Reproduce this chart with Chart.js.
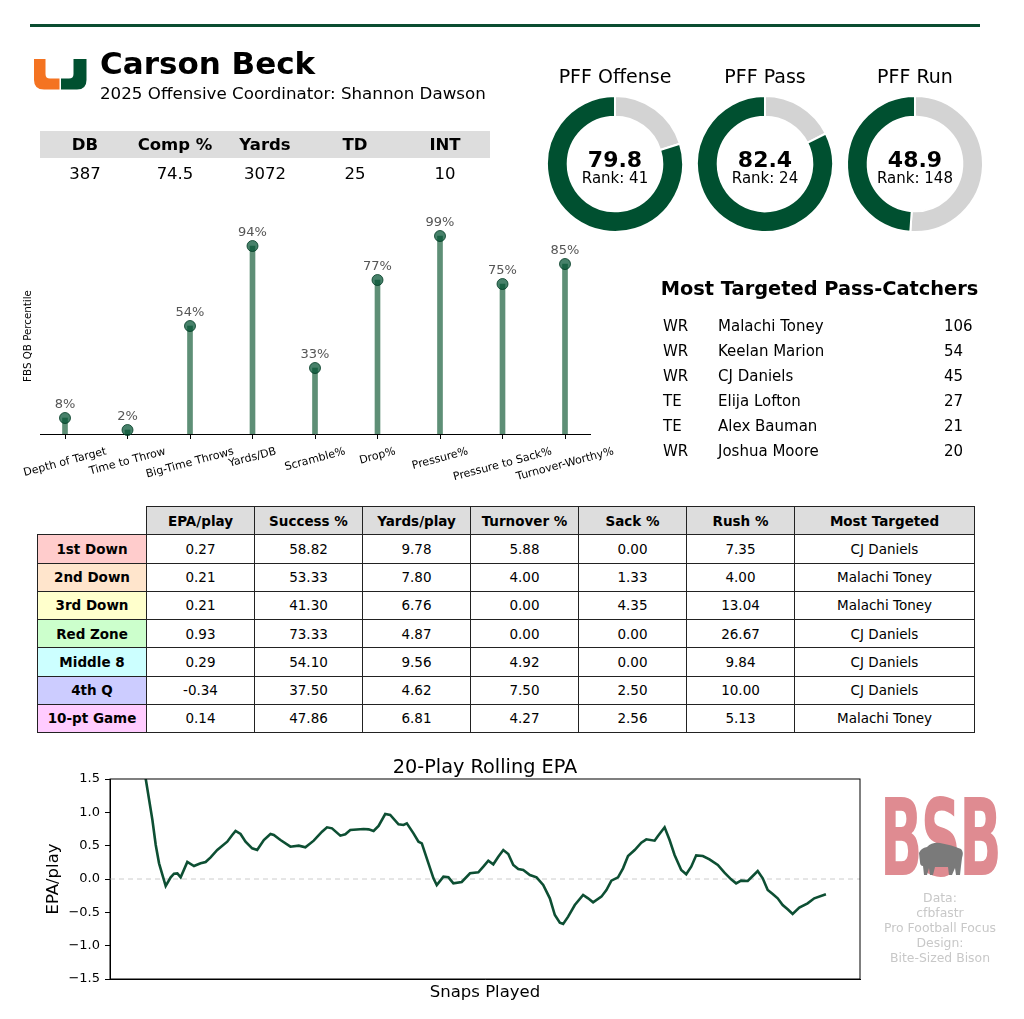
<!DOCTYPE html>
<html>
<head>
<meta charset="utf-8">
<script src="https://cdn.jsdelivr.net/npm/chart.js@4.4.1/dist/chart.umd.min.js"></script>
<style>
html,body{margin:0;padding:0;background:#fff;}
body{width:1024px;height:1019px;position:relative;overflow:hidden;font-family:"DejaVu Sans",sans-serif;color:#000;}
.t{position:absolute;white-space:nowrap;line-height:1;}
canvas{position:absolute;}
#topline{position:absolute;left:30px;top:24px;width:950px;height:3px;background:#0b4d31;}
#statband{position:absolute;left:40px;top:131px;width:450px;height:27px;background:#dddddd;}
#splits{position:absolute;left:37px;top:506px;border-collapse:collapse;table-layout:fixed;width:937px;font-size:13.5px;}
#splits td,#splits th{border:1px solid #222;padding:0;text-align:center;vertical-align:middle;}
#splits tr{height:28.25px;}
#splits th{background:#dddddd;font-weight:bold;}
#splits td.lab{font-weight:bold;}
#splits th.corner{background:#fff;border-top:none;border-left:none;}
#bsb{position:absolute;left:880px;top:784.5px;font-family:"DejaVu Sans Condensed","DejaVu Sans",sans-serif;font-weight:bold;font-size:107px;line-height:1;color:#df8b91;transform-origin:left top;letter-spacing:-3px;white-space:nowrap;}
</style>
</head>
<body>
<div id="topline"></div>
<svg width="100" height="100" style="position:absolute;left:0;top:0" viewBox="0 0 100 100">
  <path d="M34,59 H45.5 V74 Q45.5,78.5 50,78.5 H59.5 V89.5 H44 Q34,89.5 34,80 Z" fill="#f47321"/>
  <path d="M86.5,59 H73.5 V74 Q73.5,78.5 69,78.5 H61 V89.5 H77 Q86.5,89.5 86.5,80 Z" fill="#005030"/>
</svg>
<div id="statband"></div>
<canvas id="d0" width="140" height="140" style="left:545px;top:94px"></canvas>
<canvas id="d1" width="140" height="140" style="left:695px;top:94px"></canvas>
<canvas id="d2" width="140" height="140" style="left:845px;top:94px"></canvas>
<canvas id="lolli" width="620" height="290" style="left:0px;top:200px"></canvas>
<table id="splits"><colgroup id="cg"></colgroup><thead><tr id="hdr"></tr></thead><tbody id="tb"></tbody></table>
<canvas id="roll" width="830" height="270" style="left:40px;top:750px"></canvas>
<div id="bsb">BSB</div>
<svg width="1024" height="1019" style="position:absolute;left:0;top:0;pointer-events:none" viewBox="0 0 1024 1019">
  <path d="M920,862 L919,853 Q921,848 927,847 Q932,842 940,843 Q952,845 961,849 Q964,852 962,858 L961,866 L960,875 L956,875 L955,868 L952,875 L949,875 L948,867 L935,867 L933,875 L930,875 L929,868 L927,875 L924,875 L923,866 Q920,866 920,862 Z" fill="#7a7a7a"/>
</svg>
<script>
// ---------------- DATA ----------------
const playerName = "Carson Beck";
const subtitleText = "2025 Offensive Coordinator: Shannon Dawson";
const statLabels = ["DB", "Comp %", "Yards", "TD", "INT"];
const statValues = ["387", "74.5", "3072", "25", "10"];

const pffLabels = ["PFF Offense", "PFF Pass", "PFF Run"];
const pffGrades = [79.8, 82.4, 48.9];
const pffRanks = [41, 24, 148];

const pctCategories = ["Depth of Target", "Time to Throw", "Big-Time Throws", "Yards/DB", "Scramble%", "Drop%", "Pressure%", "Pressure to Sack%", "Turnover-Worthy%"];
const pctValues = [8, 2, 54, 94, 33, 77, 99, 75, 85];
const pctAxisTitle = "FBS QB Percentile";

const targetTitle = "Most Targeted Pass-Catchers";
const targetPos = ["WR", "WR", "WR", "TE", "TE", "WR"];
const targetNames = ["Malachi Toney", "Keelan Marion", "CJ Daniels", "Elija Lofton", "Alex Bauman", "Joshua Moore"];
const targetCounts = [106, 54, 45, 27, 21, 20];

const splitColumns = ["EPA/play", "Success %", "Yards/play", "Turnover %", "Sack %", "Rush %", "Most Targeted"];
const situationLabels = ["1st Down", "2nd Down", "3rd Down", "Red Zone", "Middle 8", "4th Q", "10-pt Game"];
const epaPlay = ["0.27", "0.21", "0.21", "0.93", "0.29", "-0.34", "0.14"];
const successPct = ["58.82", "53.33", "41.30", "73.33", "54.10", "37.50", "47.86"];
const yardsPlay = ["9.78", "7.80", "6.76", "4.87", "9.56", "4.62", "6.81"];
const turnoverPct = ["5.88", "4.00", "0.00", "0.00", "4.92", "7.50", "4.27"];
const sackPct = ["0.00", "1.33", "4.35", "0.00", "0.00", "2.50", "2.56"];
const rushPct = ["7.35", "4.00", "13.04", "26.67", "9.84", "10.00", "5.13"];
const mostTargeted = ["CJ Daniels", "Malachi Toney", "Malachi Toney", "CJ Daniels", "CJ Daniels", "CJ Daniels", "Malachi Toney"];

const rollingSnaps = [20,21,25,27,29,33,36,38,40,42,46,50,54,57,60,64,70,73,75,78,81,85,88,92,96,98,102,108,113,117,122,127,130,133,138,141,144,152,155,158,161,165,168,173,176,178,182,185,187,191,194,196,200,203,206,211,216,221,224,227,230,233,236,239,242,245,248,252,256,260,264,267,270,272,275,279,284,287,290,295,298,301,305,308,311,315,319,322,327,329,333,336,339,343,346,349,352,356,360,365,369,373,376,379,383,386,389,392,395,398,401,404,407,410,414,419,423,430];
const rollingEpa = [1.72,1.5,0.885,0.51,0.235,-0.105,0.025,0.08,0.085,0.025,0.255,0.195,0.235,0.255,0.325,0.435,0.56,0.66,0.72,0.675,0.56,0.46,0.435,0.585,0.675,0.66,0.585,0.485,0.5,0.475,0.575,0.71,0.775,0.76,0.65,0.67,0.735,0.75,0.745,0.72,0.795,0.975,0.96,0.82,0.81,0.835,0.685,0.56,0.535,0.235,0.01,-0.09,0.035,0.025,-0.065,-0.045,0.085,0.1,0.185,0.275,0.22,0.335,0.435,0.375,0.21,0.15,0.135,0.06,0.025,-0.09,-0.29,-0.54,-0.655,-0.675,-0.565,-0.39,-0.24,-0.29,-0.35,-0.265,-0.165,-0.025,0.025,0.16,0.345,0.435,0.545,0.595,0.575,0.645,0.775,0.585,0.36,0.135,0.07,0.185,0.355,0.345,0.295,0.21,0.095,-0.005,-0.065,-0.025,-0.03,0.045,0.12,0.01,-0.165,-0.225,-0.29,-0.39,-0.455,-0.525,-0.43,-0.365,-0.29,-0.23];
const rollingTitle = "20-Play Rolling EPA";
const rollingYTicks = [-1.5, -1.0, -0.5, 0.0, 0.5, 1.0, 1.5];

const creditLines = ["Data:", "cfbfastr", "Pro Football Focus", "Design:", "Bite-Sized Bison"];

// ---------------- STYLE ----------------
const GREEN = "#005030";
const situationColors = ["#ffcccc", "#ffe5cc", "#ffffcc", "#ccffcc", "#ccffff", "#ccccff", "#ffccff"];
Chart.defaults.font.family = "'DejaVu Sans', sans-serif";
Chart.defaults.color = "#000";

function place(txt, x, base, size, opts) {
  opts = opts || {};
  const d = document.createElement('div');
  d.className = 't';
  d.textContent = txt;
  d.style.fontSize = size + 'px';
  d.style.fontWeight = opts.bold ? 'bold' : 'normal';
  d.style.color = opts.color || '#000';
  d.style.top = (base - 0.846 * size) + 'px';
  d.style.left = x + 'px';
  const al = opts.align || 'left';
  if (al === 'center') d.style.transform = 'translateX(-50%)';
  else if (al === 'right') d.style.transform = 'translateX(-100%)';
  document.body.appendChild(d);
  return d;
}

// Header
place(playerName, 100, 74, 31, {bold: true});
place(subtitleText, 100, 99, 16.7);
statLabels.forEach((l, i) => place(l, 85 + 90 * i, 150.7, 16.5, {bold: true, align: 'center'}));
statValues.forEach((v, i) => place(v, 85 + 90 * i, 179.5, 16.5, {align: 'center'}));

// Doughnuts
const donutCenters = [615, 765, 915];
pffGrades.forEach((g, i) => {
  new Chart(document.getElementById('d' + i), {
    type: 'doughnut',
    data: { datasets: [{ data: [100 - g, g], backgroundColor: ['#d3d3d3', GREEN], borderColor: '#fff', borderWidth: 2 }] },
    options: {
      responsive: false, animation: false, radius: 68, cutout: 48,
      plugins: { legend: { display: false }, tooltip: { enabled: false } }
    }
  });
  place(pffLabels[i], donutCenters[i], 83.3, 19, {align: 'center'});
  place(g.toFixed(1), donutCenters[i], 167.3, 22, {bold: true, align: 'center'});
  place('Rank: ' + pffRanks[i], donutCenters[i], 183.3, 15, {align: 'center'});
});

// Pass catchers
place(targetTitle, 819.5, 295, 19.4, {bold: true, align: 'center'});
targetNames.forEach((n, i) => {
  const b = 332 + 25 * i;
  place(targetPos[i], 663, b, 15);
  place(n, 718, b, 15);
  place(String(targetCounts[i]), 944, b, 15);
});

// Lollipop chart
const lolliLabels = {
  id: 'lolliLabels',
  afterDatasetsDraw(chart) {
    const {ctx, chartArea} = chart;
    const xs = chart.scales.x, ys = chart.scales.y;
    ctx.save();
    ctx.font = "13px 'DejaVu Sans'";
    ctx.fillStyle = '#555';
    ctx.textAlign = 'center';
    ctx.textBaseline = 'bottom';
    pctValues.forEach((v, i) => ctx.fillText(v + '%', xs.getPixelForValue(i), ys.getPixelForValue(v) - 7));
    ctx.font = "11px 'DejaVu Sans'";
    ctx.fillStyle = '#000';
    const ang = 15 * Math.PI / 180;
    pctCategories.forEach((c, i) => {
      const w = ctx.measureText(c).width, h = 11;
      const ext = w * Math.sin(ang) + h * Math.cos(ang);
      const cx = xs.getPixelForValue(i), cy = chartArea.bottom + 12 + ext / 2;
      ctx.save();
      ctx.translate(cx, cy);
      ctx.rotate(-ang);
      ctx.textAlign = 'center';
      ctx.textBaseline = 'middle';
      ctx.fillText(c, 0, 0);
      ctx.restore();
    });
    // y-axis title
    ctx.save();
    ctx.font = "10.3px 'DejaVu Sans'";
    ctx.fillStyle = '#000';
    ctx.translate(chartArea.left - 12, chartArea.bottom - 98);
    ctx.rotate(-Math.PI / 2);
    ctx.textAlign = 'center';
    ctx.textBaseline = 'middle';
    ctx.fillText(pctAxisTitle, 0, 0);
    ctx.restore();
    ctx.restore();
  }
};

new Chart(document.getElementById('lolli'), {
  type: 'bar',
  data: {
    datasets: [
      { type: 'scatter', data: pctValues.map((v, i) => ({x: i, y: v})), pointRadius: 5.5, backgroundColor: 'rgba(0,80,48,0.72)', borderColor: 'rgba(0,60,36,0.8)', borderWidth: 1, clip: false, order: 0 },
      { type: 'bar', data: pctValues.map((v, i) => ({x: i, y: v})), backgroundColor: '#5e8f76', barThickness: 5, order: 1 }
    ]
  },
  options: {
    responsive: false, animation: false,
    layout: { padding: { left: 40, right: 30, top: 34, bottom: 51 } },
    plugins: { legend: { display: false }, tooltip: { enabled: false } },
    scales: {
      x: {
        type: 'linear', min: -0.4, max: 8.4, offset: false,
        afterBuildTicks: s => { s.ticks = pctCategories.map((c, i) => ({value: i})); },
        ticks: { display: false },
        grid: { display: true, offset: false, drawOnChartArea: false, drawTicks: true, tickLength: 5, color: '#000', lineWidth: 1 },
        border: { display: true, color: '#000', width: 1 }
      },
      y: { display: false, min: 0, max: 100 }
    }
  },
  plugins: [lolliLabels]
});

// Splits table
const cg = document.getElementById('cg');
[109, 108, 108, 108, 108, 108, 108, 180].forEach(w => { const c = document.createElement('col'); c.style.width = w + 'px'; cg.appendChild(c); });
const hdr = document.getElementById('hdr');
const corner = document.createElement('th'); corner.className = 'corner'; hdr.appendChild(corner);
splitColumns.forEach(c => { const th = document.createElement('th'); th.textContent = c; hdr.appendChild(th); });
const tb = document.getElementById('tb');
situationLabels.forEach((s, r) => {
  const tr = document.createElement('tr');
  const lab = document.createElement('td'); lab.className = 'lab'; lab.textContent = s; lab.style.background = situationColors[r]; tr.appendChild(lab);
  [epaPlay, successPct, yardsPlay, turnoverPct, sackPct, rushPct, mostTargeted].forEach(col => {
    const td = document.createElement('td'); td.textContent = col[r]; tr.appendChild(td);
  });
  tb.appendChild(tr);
});

// Rolling EPA
place(rollingTitle, 485, 773, 19.3, {align: 'center'});
const span = rollingSnaps[rollingSnaps.length - 1] - rollingSnaps[0];
const xMin = rollingSnaps[0] - 0.05 * span, xMax = rollingSnaps[rollingSnaps.length - 1] + 0.05 * span;
const boxPlugin = {
  id: 'box',
  afterDraw(chart) {
    const {ctx, chartArea: a} = chart;
    ctx.save(); ctx.strokeStyle = '#000'; ctx.lineWidth = 1;
    ctx.strokeRect(a.left, a.top, a.right - a.left, a.bottom - a.top);
    ctx.restore();
  }
};
new Chart(document.getElementById('roll'), {
  type: 'line',
  data: {
    datasets: [
      { data: rollingSnaps.map((s, i) => ({x: s, y: rollingEpa[i]})), borderColor: '#0d4f33', borderWidth: 2.6, pointRadius: 0, tension: 0, order: 0 },
      { data: [{x: xMin, y: 0}, {x: xMax, y: 0}], borderColor: '#cccccc', borderWidth: 1, borderDash: [5, 4], pointRadius: 0, order: 1 }
    ]
  },
  options: {
    responsive: false, animation: false,
    layout: { padding: { left: 0, right: 10, top: 29, bottom: 13.2 } },
    plugins: { legend: { display: false }, tooltip: { enabled: false } },
    scales: {
      x: {
        type: 'linear', min: xMin, max: xMax,
        ticks: { display: false },
        grid: { display: false, drawTicks: false },
        border: { display: true, color: '#000' },
        title: { display: true, text: 'Snaps Played', font: { size: 16.5 }, color: '#000' }
      },
      y: {
        min: -1.5, max: 1.5,
        afterBuildTicks: s => { s.ticks = rollingYTicks.map(v => ({value: v})); },
        afterFit: s => { s.width = 70; },
        ticks: { font: { size: 13 }, color: '#000', padding: 5, callback: v => Number(v).toFixed(1).replace('-', '\u2212') },
        grid: { display: true, drawOnChartArea: false, drawTicks: true, tickLength: 5, color: '#000' },
        border: { display: true, color: '#000' },
        title: { display: true, text: 'EPA/play', font: { size: 16.5 }, color: '#000' }
      }
    }
  },
  plugins: [boxPlugin]
});

// BSB logo text sizing
const bsb = document.getElementById('bsb');
const bw = bsb.getBoundingClientRect().width;
bsb.style.transform = 'scaleX(' + (120 / bw) + ')';
creditLines.forEach((l, i) => place(l, 940, 902.4 + 15 * i, 12.4, {align: 'center', color: '#c8c8c8'}));
</script>
</body>
</html>
